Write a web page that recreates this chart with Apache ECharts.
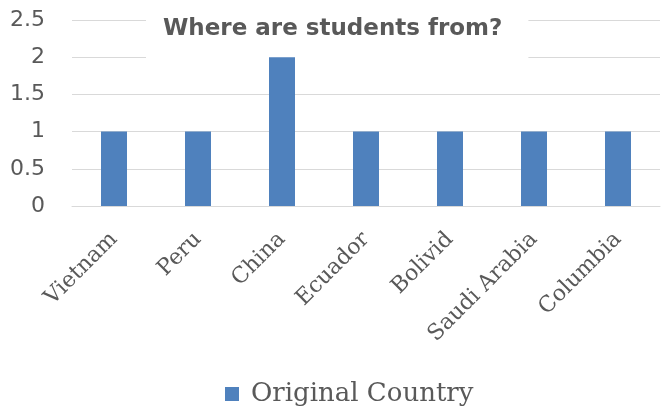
<!DOCTYPE html>
<html>
<head>
<meta charset="utf-8">
<script src="https://cdn.jsdelivr.net/npm/echarts@6/dist/echarts.min.js"></script>
<style>
  html, body { margin: 0; padding: 0; background: #fff; }
  #chart { width: 666px; height: 414px; }
</style>
</head>
<body>
<div id="chart"></div>
<script>
// Countries the students come from and how many come from each
const countries = ['Vietnam', 'Peru', 'China', 'Ecuador', 'Bolivid', 'Saudi Arabia', 'Columbia'];
const studentCounts = [1, 1, 2, 1, 1, 1, 1];
const seriesName = 'Original Country';
const yTicks = { min: 0, max: 2.5, interval: 0.5 };

const chart = echarts.init(document.getElementById('chart'));
chart.setOption({
  backgroundColor: '#ffffff',
  animation: false,
  title: {
    text: 'Where are students from?',
    left: 146,
    top: 0,
    z: 1,
    padding: [18, 26, 20, 17],
    backgroundColor: '#ffffff',
    textStyle: {
      fontFamily: 'DejaVu Sans, Liberation Sans, sans-serif',
      fontWeight: 'bold',
      fontSize: 23,
      color: '#595959'
    }
  },
  legend: {
    left: 225,
    top: 381,
    padding: 0,
    itemWidth: 14,
    itemHeight: 14,
    icon: 'rect',
    textStyle: {
      fontFamily: 'DejaVu Serif, Liberation Serif, serif',
      fontSize: 26,
      color: '#595959',
      padding: [0, 0, 0, 7]
    },
    data: [seriesName]
  },
  grid: { left: 72, right: 6, top: 20, bottom: 208, containLabel: false },
  xAxis: {
    type: 'category',
    data: countries,
    axisLine: { show: true, lineStyle: { color: '#d9d9d9', width: 1 } },
    axisTick: { show: false },
    axisLabel: {
      rotate: 45,
      margin: 30,
      fontFamily: 'DejaVu Serif, Liberation Serif, serif',
      fontSize: 22,
      color: '#595959'
    }
  },
  yAxis: {
    type: 'value',
    min: yTicks.min,
    max: yTicks.max,
    interval: yTicks.interval,
    axisLine: { show: false },
    axisTick: { show: false },
    splitLine: { lineStyle: { color: '#d9d9d9', width: 1 } },
    axisLabel: {
      margin: 27,
      fontFamily: 'DejaVu Sans, Liberation Sans, sans-serif',
      fontSize: 22,
      color: '#595959'
    }
  },
  series: [{
    name: seriesName,
    type: 'bar',
    z: 3,
    data: studentCounts,
    barWidth: 26,
    itemStyle: { color: '#4f81bd' }
  }]
});
</script>
</body>
</html>
